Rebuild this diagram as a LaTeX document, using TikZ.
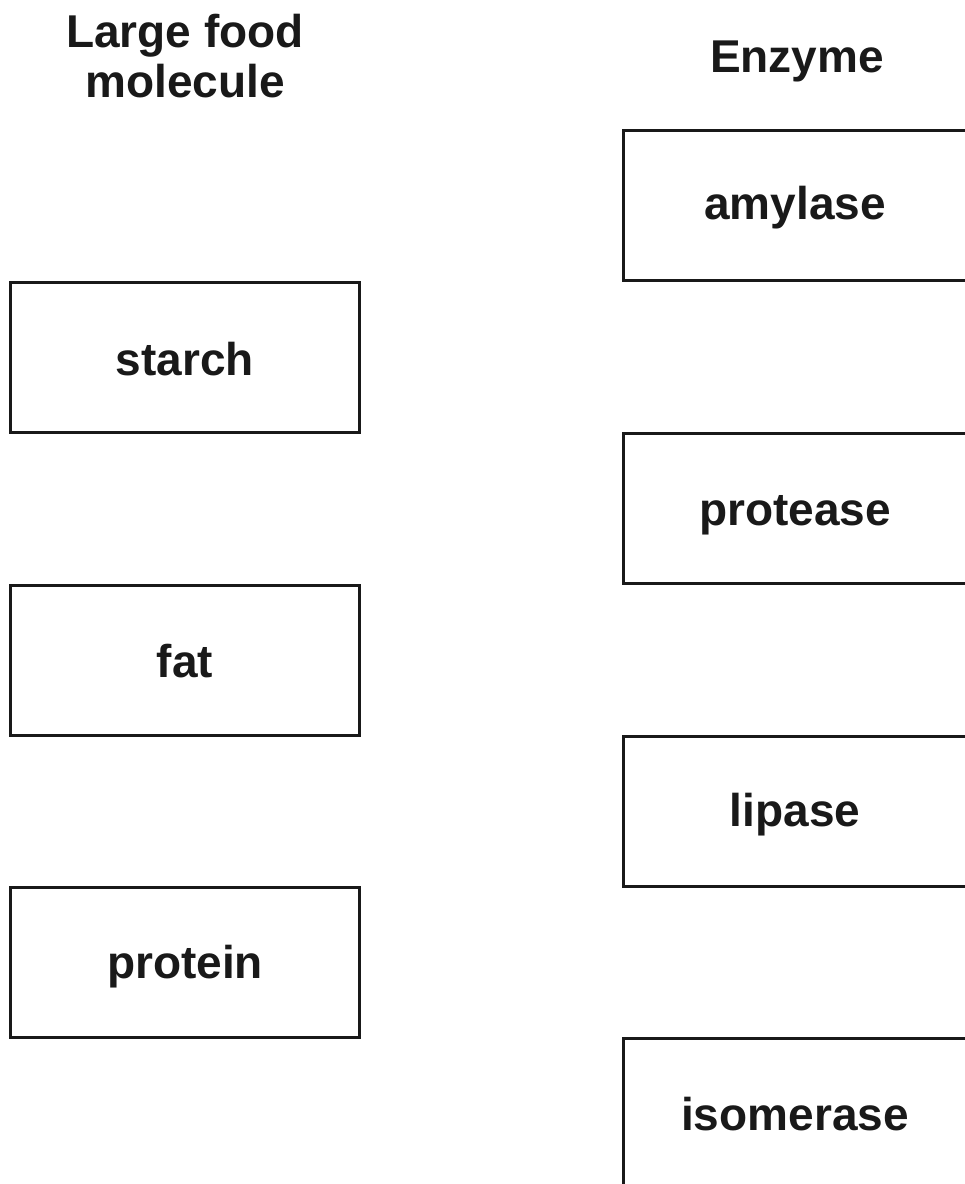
\documentclass[tikz,border=0pt]{standalone}
\usepackage{fontspec}
\setmainfont{Liberation Sans}
\begin{document}
\begin{tikzpicture}[x=1pt,y=-1pt,
  boxstyle/.style={draw=black!90, line width=3pt},
  label/.style={font=\fontsize{46}{50}\selectfont\bfseries, text=black!90, inner sep=0pt, align=center, anchor=base}]
\useasboundingbox (0,0) rectangle (965,1184);
\clip (0,0) rectangle (965,1184);
% column headers
\node[label] (hleft) at (185,97) {Large food\\molecule};
\node[label] (hright) at (797,72) {Enzyme};
% food molecules
\draw[boxstyle] (10,282) rectangle (359,432);
\node[label] (starch) at (185,375) {starch};
\draw[boxstyle] (10,585) rectangle (359,735);
\node[label] (fat) at (185,677) {fat};
\draw[boxstyle] (10,887) rectangle (359,1037);
\node[label] (protein) at (185,978) {protein};
% enzymes
\draw[boxstyle] (623,130) rectangle (972,280);
\node[label] (amylase) at (795,219) {amylase};
\draw[boxstyle] (623,433) rectangle (972,583);
\node[label] (protease) at (795,525) {protease};
\draw[boxstyle] (623,736) rectangle (972,886);
\node[label] (lipase) at (795,826) {lipase};
\draw[boxstyle] (623,1038) rectangle (972,1188);
\node[label] (isomerase) at (795,1130) {isomerase};
\end{tikzpicture}
\end{document}
